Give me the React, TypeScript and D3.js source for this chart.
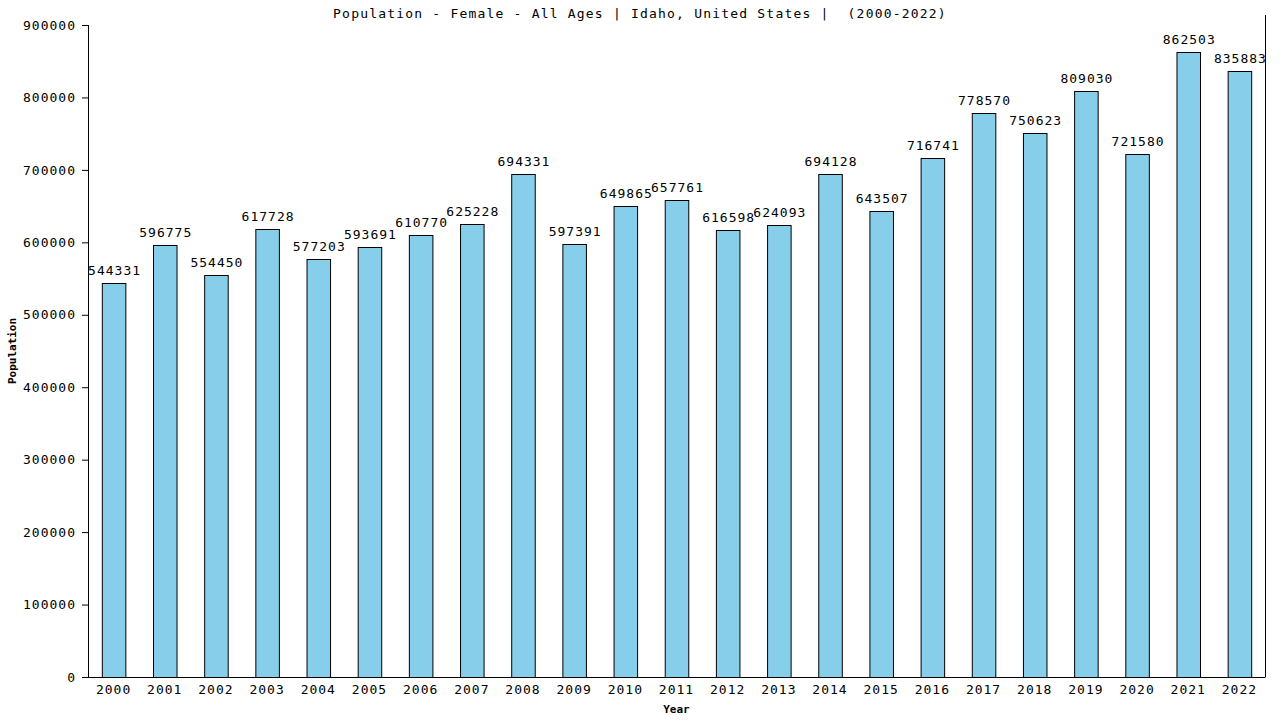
import React, { useRef, useEffect } from 'react';
import * as d3 from 'd3';

const years = ['2000', '2001', '2002', '2003', '2004', '2005', '2006', '2007', '2008', '2009', '2010', '2011',
  '2012', '2013', '2014', '2015', '2016', '2017', '2018', '2019', '2020', '2021', '2022'];
const population = [544331, 596775, 554450, 617728, 577203, 593691, 610770, 625228, 694331, 597391, 649865, 657761,
  616598, 624093, 694128, 643507, 716741, 778570, 750623, 809030, 721580, 862503, 835883];
const yTicks = [0, 100000, 200000, 300000, 400000, 500000, 600000, 700000, 800000, 900000];

const FONT = '"DejaVu Sans Mono", monospace';

export default function App() {
  const svgRef = useRef<SVGSVGElement>(null);

  useEffect(() => {
    const width = 1280;
    const height = 720;
    const margin = { top: 25, right: 15, bottom: 43, left: 88 };
    const innerWidth = width - margin.left - margin.right;
    const innerHeight = height - margin.top - margin.bottom;

    const svg = d3.select(svgRef.current);
    svg.selectAll('*').remove();

    svg.append('rect').attr('width', width).attr('height', height).attr('fill', '#ffffff');

    const g = svg.append('g').attr('transform', `translate(${margin.left},${margin.top})`);

    const x = d3.scaleBand().domain(years).range([0, innerWidth]).paddingInner(0.54).paddingOuter(0.27);
    const y = d3.scaleLinear().domain([0, 900000]).range([innerHeight, 0]);

    // bars
    g.selectAll('.bar')
      .data(years)
      .enter()
      .append('rect')
      .attr('x', d => x(d)! + 0.5)
      .attr('y', (d, i) => Math.round(y(population[i])) + 0.5)
      .attr('width', x.bandwidth())
      .attr('height', (d, i) => innerHeight - Math.round(y(population[i])))
      .attr('fill', '#87ceeb')
      .attr('stroke', '#000')
      .attr('stroke-width', 1);

    // value labels
    g.selectAll('.val')
      .data(years)
      .enter()
      .append('text')
      .attr('x', d => x(d)! + x.bandwidth() / 2 + 1)
      .attr('y', (d, i) => y(population[i]) - 8)
      .attr('text-anchor', 'middle')
      .style('font-family', FONT)
      .style('font-size', '13px')
      .style('letter-spacing', '1px')
      .attr('fill', '#000')
      .text((d, i) => String(population[i]));

    // y axis
    const yAxis = g.append('g')
      .call(d3.axisLeft(y).tickValues(yTicks).tickSize(6).tickPadding(6).tickFormat(d => String(d)));
    yAxis.select('.domain').attr('stroke', '#000').attr('d', `M0.5,0V${innerHeight}`);
    yAxis.selectAll('.tick line').attr('stroke', '#000');
    yAxis.selectAll('.tick text')
      .attr('fill', '#000')
      .style('font-family', FONT)
      .style('font-size', '13px')
      .style('letter-spacing', '1px');

    // x axis
    const xAxis = g.append('g')
      .attr('transform', `translate(0,${innerHeight})`)
      .call(d3.axisBottom(x).tickSize(0).tickPadding(8));
    xAxis.select('.domain').attr('stroke', '#000').attr('d', `M-6,0.5H${innerWidth + 0.5}`);
    xAxis.selectAll('.tick text')
      .attr('fill', '#000')
      .style('font-family', FONT)
      .style('font-size', '13px')
      .style('letter-spacing', '1px');

    // right border
    g.append('line')
      .attr('x1', innerWidth + 0.5).attr('x2', innerWidth + 0.5)
      .attr('y1', -10).attr('y2', innerHeight)
      .attr('stroke', '#000');

    // title
    svg.append('text')
      .attr('x', 640)
      .attr('y', 18)
      .attr('text-anchor', 'middle')
      .style('font-family', FONT)
      .style('font-size', '13px')
      .style('letter-spacing', '1.2px')
      .style('white-space', 'pre')
      .attr('fill', '#000')
      .text('Population - Female - All Ages | Idaho, United States |  (2000-2022)');

    // axis titles
    svg.append('text')
      .attr('x', margin.left + innerWidth / 2)
      .attr('y', 713)
      .attr('text-anchor', 'middle')
      .style('font-family', FONT)
      .style('font-size', '11px')
      .style('font-weight', 'bold')
      .attr('fill', '#000')
      .text('Year');

    svg.append('text')
      .attr('transform', `translate(16,${margin.top + innerHeight / 2}) rotate(-90)`)
      .attr('text-anchor', 'middle')
      .style('font-family', FONT)
      .style('font-size', '11px')
      .style('font-weight', 'bold')
      .attr('fill', '#000')
      .text('Population');
  }, []);

  return (
    <svg
      ref={svgRef}
      width={1280}
      height={720}
      viewBox="0 0 1280 720"
      style={{ position: 'fixed', left: 0, top: 0, display: 'block' }}
    ></svg>
  );
}
